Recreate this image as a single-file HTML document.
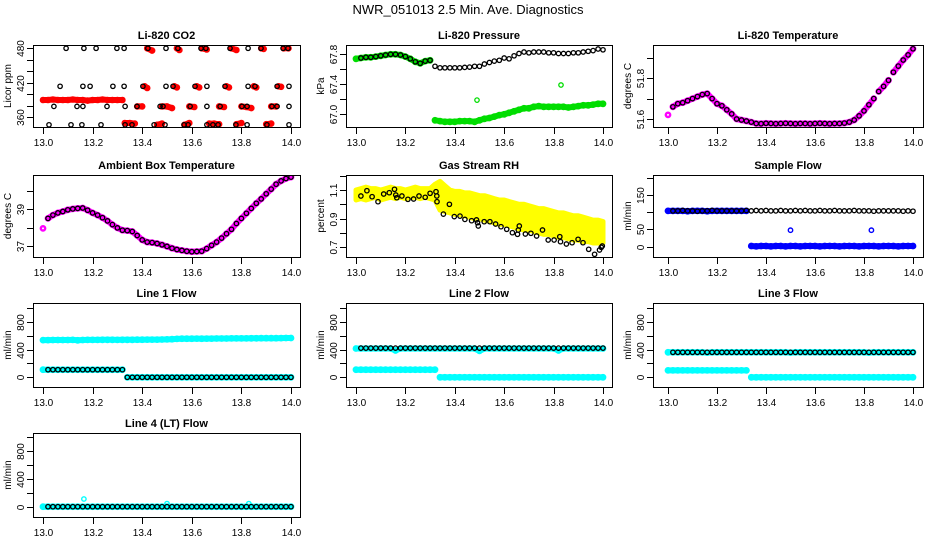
<!DOCTYPE html>
<html><head><meta charset="utf-8"><style>
html,body{margin:0;padding:0;background:#fff;}
svg{display:block;font-family:"Liberation Sans",sans-serif;}
</style></head><body>
<svg id="chart" width="936" height="540" viewBox="0 0 936 540">
<text x="468" y="14" text-anchor="middle" font-size="13">NWR_051013  2.5 Min. Ave. Diagnostics</text>
</svg>
<script>
// ---- shared time axis ----
const T = [13.00,13.02,13.04,13.06,13.08,13.10,13.12,13.14,13.16,13.18,13.20,13.22,13.24,13.26,13.28,13.30,13.32,13.34,13.36,13.38,13.40,13.42,13.44,13.46,13.48,13.50,13.52,13.54,13.56,13.58,13.60,13.62,13.64,13.66,13.68,13.70,13.72,13.74,13.76,13.78,13.80,13.82,13.84,13.86,13.88,13.90,13.92,13.94,13.96,13.98,14.00];
const xTicks = [13.0,13.2,13.4,13.6,13.8,14.0];
const xTickLabels = ["13.0","13.2","13.4","13.6","13.8","14.0"];

// ---- CO2 ----
const co2BlackT = [13.093,13.165,13.214,13.298,13.327,13.423,13.496,13.544,13.637,13.657,13.754,13.827,13.879,13.968,13.988,
 13.069,13.161,13.190,13.282,13.327,13.403,13.496,13.524,13.613,13.661,13.734,13.827,13.855,13.944,13.992,
 13.044,13.137,13.161,13.258,13.331,13.379,13.472,13.484,13.593,13.661,13.714,13.802,13.823,13.923,13.944,13.992,
 13.024,13.113,13.157,13.234,13.331,13.359,13.448,13.492,13.569,13.585,13.661,13.685,13.706,13.778,13.823,13.903,13.992];
const co2BlackV = [480,480,480,480,480,480,480,480,480,480,480,480,480,480,480,
 414,414,414,414,414,414,414,414,414,414,414,414,414,414,414,
 379,379,379,379,379,379,379,379,379,379,379,379,379,379,379,379,
 347,347,347,347,347,347,347,347,347,347,347,347,347,347,347,347,347];
const co2RedT = [13.00,13.02,13.04,13.06,13.08,13.10,13.12,13.14,13.16,13.18,13.20,13.22,13.24,13.26,13.28,13.30,13.32,
 13.42,13.44,13.54,13.55,13.64,13.66,13.76,13.78,13.88,13.89,13.97,13.99,
 13.41,13.42,13.53,13.54,13.62,13.63,13.74,13.75,13.85,13.86,13.95,13.96,
 13.38,13.40,13.48,13.50,13.52,13.59,13.61,13.71,13.73,13.80,13.82,13.84,13.92,13.94,
 13.33,13.35,13.37,13.46,13.48,13.57,13.59,13.67,13.69,13.71,13.78,13.80,13.90,13.92];
const co2RedV = [390,390,391,390,390,390,391,390,390,389,390,390,391,390,390,390,390,
 480,476,480,477,480,478,480,477,480,479,480,480,
 414,411,414,412,414,412,414,412,414,412,414,413,
 379,379,379,379,376,379,378,379,378,379,378,376,379,379,
 350,350,349,347,349,347,350,349,349,348,348,350,348,349];

// ---- Pressure ----
const presBlack = [null,67.75,67.76,67.76,67.77,67.78,67.79,67.80,67.80,67.79,67.77,67.74,67.70,67.68,67.71,67.72,67.64,67.62,67.62,67.62,67.62,67.62,67.625,67.63,67.64,67.64,67.67,67.69,67.71,67.72,67.75,67.74,67.78,67.81,67.83,67.82,67.83,67.83,67.83,67.82,67.82,67.81,67.81,67.81,67.82,67.82,67.83,67.84,67.85,67.87,67.86];
const presGreen = [67.74,67.75,67.76,67.76,67.77,67.78,67.79,67.80,67.80,67.79,67.77,67.74,67.70,67.68,67.71,67.72,66.92,66.91,66.90,66.90,66.90,66.91,66.91,66.91,66.90,66.92,66.94,66.95,66.97,66.99,67.00,67.02,67.04,67.06,67.08,67.08,67.10,67.11,67.10,67.10,67.10,67.10,67.10,67.09,67.10,67.11,67.12,67.12,67.13,67.14,67.14];
const presGreenOutT = [13.49,13.83];
const presGreenOutV = [67.19,67.39];

// ---- Li-820 temperature ----
const tempPink = [51.62,51.66,51.675,51.68,51.69,51.70,51.71,51.72,51.725,51.70,51.675,51.665,51.645,51.625,51.60,51.595,51.59,51.585,51.578,51.577,51.579,51.578,51.577,51.578,51.579,51.578,51.577,51.578,51.578,51.577,51.578,51.579,51.578,51.577,51.578,51.578,51.58,51.585,51.595,51.615,51.64,51.67,51.70,51.735,51.76,51.79,51.83,51.86,51.89,51.915,51.945];
const tempBlack = [null,51.66,51.675,51.68,51.69,51.70,51.71,51.72,51.725,51.70,51.675,51.665,51.645,51.625,51.60,51.595,51.59,51.585,51.578,51.577,51.579,51.578,51.577,51.578,51.579,51.578,51.577,51.578,51.578,51.577,51.578,51.579,51.578,51.577,51.578,51.578,51.58,51.585,51.595,51.615,51.64,51.67,51.70,51.735,51.76,51.79,51.83,51.86,51.89,51.915,51.945];

// ---- Ambient box temperature ----
const ambPink = [37.95,38.5,38.68,38.80,38.88,38.97,39.02,39.05,39.07,38.95,38.80,38.68,38.54,38.36,38.16,37.98,37.85,37.83,37.78,37.56,37.32,37.20,37.17,37.12,37.05,36.96,36.86,36.79,36.74,36.70,36.67,36.68,36.70,36.84,37.02,37.20,37.42,37.66,37.90,38.22,38.50,38.78,39.05,39.33,39.57,39.85,40.11,40.38,40.56,40.69,40.77];
const ambBlack = [null,38.5,38.68,38.80,38.88,38.97,39.02,39.05,39.07,38.95,38.80,38.68,38.54,38.36,38.16,37.98,37.85,37.83,37.78,37.56,37.32,37.20,37.17,37.12,37.05,36.96,36.86,36.79,36.74,36.70,36.67,36.68,36.70,36.84,37.02,37.20,37.42,37.66,37.90,38.22,38.50,38.78,39.05,39.33,39.57,39.85,40.11,40.38,40.56,40.69,40.77];

// ---- Gas stream RH ----
const rhYellowHi = [1.10,1.11,1.12,1.11,1.11,1.10,1.11,1.12,1.11,1.11,1.10,1.11,1.12,1.11,1.11,1.11,1.14,1.16,1.13,1.10,1.09,1.09,1.08,1.08,1.07,1.06,1.06,1.05,1.04,1.03,1.03,1.02,1.01,1.00,1.00,0.99,0.98,0.97,0.97,0.96,0.95,0.94,0.94,0.93,0.92,0.92,0.91,0.90,0.89,0.89,0.88];
const rhYellowLo = [1.03,1.04,1.03,1.04,1.05,1.03,1.04,1.05,1.04,1.05,1.04,1.05,1.05,1.04,1.05,1.04,1.03,0.96,0.95,0.94,0.93,0.93,0.92,0.91,0.90,0.90,0.89,0.88,0.87,0.86,0.86,0.85,0.84,0.83,0.82,0.82,0.81,0.80,0.79,0.79,0.78,0.77,0.77,0.76,0.75,0.75,0.74,0.74,0.73,0.73,0.73];
const rhBlackT = [13.020,13.044,13.065,13.089,13.112,13.135,13.156,13.161,13.165,13.186,13.210,13.233,13.255,13.280,13.300,13.324,13.327,13.328,13.354,13.378,13.398,13.421,13.441,13.468,13.488,13.492,13.495,13.519,13.542,13.565,13.587,13.610,13.633,13.654,13.657,13.661,13.686,13.708,13.731,13.755,13.778,13.802,13.825,13.828,13.852,13.875,13.899,13.919,13.942,13.966,13.986,13.993,13.997];
const rhBlackV = [1.058,1.095,1.053,1.018,1.072,1.081,1.105,1.065,1.046,1.058,1.035,1.037,1.058,1.049,1.077,1.088,1.058,1.018,0.932,1.000,0.914,0.918,0.895,0.886,0.891,0.872,0.849,0.879,0.879,0.863,0.844,0.826,0.802,0.791,0.821,0.849,0.793,0.798,0.779,0.821,0.751,0.751,0.774,0.739,0.723,0.732,0.756,0.732,0.686,0.651,0.681,0.700,0.709];

// ---- Sample flow ----
const sampBlack = [null,104,104,105,104,104,103,104,104,105,104,104,104,104,104,104,105,104,105,104,105,104,104,105,104,104,105,104,105,104,104,105,104,104,105,104,104,104,105,104,104,104,103,104,104,104,104,104,103,104,103];
const sampBlue = [104,104,104,104,103,104,104,104,103,104,104,104,104,104,104,104,104,2,1,2,2,1,2,2,1,2,2,1,2,2,2,1,2,2,2,1,2,2,2,1,2,2,2,1,2,2,2,1,2,2,2];
const sampBlueOutT = [13.50,13.83];
const sampBlueOutV = [48,48];

// ---- Line flows ----
const line1CyanTop = [535,535,536,536,537,537,538,533,537,538,538,538,539,539,539,538,540,540,540,541,541,542,542,543,544,545,548,552,555,556,556,557,556,557,557,558,558,558,559,560,560,560,561,561,562,562,563,563,564,565,566];
const line1CyanLow = [110,110,110,110,110,110,110,110,110,110,110,110,110,110,110,110,110,0,0,0,0,0,0,0,0,0,0,0,0,0,0,0,0,0,0,0,0,0,0,0,0,0,0,0,0,0,0,0,0,0,0];
const line1Black = [null,110,110,110,110,110,110,110,110,110,110,110,110,110,110,110,110,0,0,0,0,0,0,0,0,0,0,0,0,0,0,0,0,0,0,0,0,0,0,0,0,0,0,0,0,0,0,0,0,0,0];
const line2CyanTop = [415,415,415,415,415,415,415,415,385,415,415,415,415,415,415,415,415,415,415,415,415,415,415,415,415,380,415,415,415,415,415,415,415,415,415,415,415,415,415,415,415,385,415,415,415,415,415,415,415,415,415];
const line2CyanLow = [110,110,110,110,110,110,110,110,110,110,110,110,110,110,110,110,110,0,0,0,0,0,0,0,0,0,0,0,0,0,0,0,0,0,0,0,0,0,0,0,0,0,0,0,0,0,0,0,0,0,0];
const line2Black = [null,420,420,420,420,420,420,420,420,420,420,420,420,420,420,420,420,420,420,420,420,420,420,420,420,420,420,420,420,420,420,420,420,420,420,420,420,420,420,420,420,420,420,420,420,420,420,420,420,420,420];
const line3CyanTop = [360,360,360,360,360,360,360,360,355,360,360,360,360,360,360,360,360,360,360,360,360,360,360,360,360,355,360,360,360,360,360,360,360,360,360,360,360,360,360,360,360,355,360,360,360,360,360,360,360,360,360];
const line3CyanLow = [100,100,100,100,100,100,100,100,100,100,100,100,100,100,100,100,100,0,0,0,0,0,0,0,0,0,0,0,0,0,0,0,0,0,0,0,0,0,0,0,0,0,0,0,0,0,0,0,0,0,0];
const line3Black = [null,360,360,360,360,360,360,360,360,360,360,360,360,360,360,360,360,360,360,360,360,360,360,360,360,360,360,360,360,360,360,360,360,360,360,360,360,360,360,360,360,360,360,360,360,360,360,360,360,360,360];
const line4Cyan = [0,0,0,0,0,0,0,0,0,0,0,0,0,0,0,0,0,0,0,0,0,0,0,0,0,0,0,0,0,0,0,0,0,0,0,0,0,0,0,0,0,0,0,0,0,0,0,0,0,0,0];
const line4CyanOutT = [13.165,13.50,13.83];
const line4CyanOutV = [110,45,45];
const line4Black = [null,0,0,0,0,0,0,0,0,0,0,0,0,0,0,0,0,0,0,0,0,0,0,0,0,0,0,0,0,0,0,0,0,0,0,0,0,0,0,0,0,0,0,0,0,0,0,0,0,0,0];

const NS = "http://www.w3.org/2000/svg";
const svg = document.getElementById("chart");
function mk(tag, attrs, parent){
  const e = document.createElementNS(NS, tag);
  for (const k in attrs) e.setAttribute(k, attrs[k]);
  parent.appendChild(e);
  return e;
}

const flowTicks = [0,200,400,600,800,1000];
const flowLabels = ["0","","400","","800",""];
const panels = [
 {id:"co2", title:"Li-820 CO2", box:[33,45,300,127], xm:[43,291], ym:[360,117.3,480,48.3], yt:[360,380,400,420,440,460,480], yl:["360","","","420","","","480"], ylab:"Licor ppm",
  series:[{xs:co2RedT, ys:co2RedV, c:"#ff0000", w:2.2, d:true, n:"co2-red-series"},{xs:co2BlackT, ys:co2BlackV, c:"#000", w:1.3, n:"co2-black-series"}]},
 {id:"pressure", title:"Li-820 Pressure", box:[346,45,612,127], xm:[356,603], ym:[67.0,114.3,67.8,54.3], yt:[67.0,67.2,67.4,67.6,67.8], yl:["67.0","","67.4","","67.8"], ylab:"kPa",
  series:[{xs:T, ys:presGreen, c:"#00dd00", w:2.4, d:true, n:"pressure-green-series"},{xs:presGreenOutT, ys:presGreenOutV, c:"#00dd00", w:1.3, n:"pressure-green-outliers"},{xs:T, ys:presBlack, c:"#000", w:1.3, n:"pressure-black-series"}]},
 {id:"temp", title:"Li-820 Temperature", box:[653,45,923,127], xm:[668,913], ym:[51.6,119,51.8,78.3], yt:[51.6,51.7,51.8,51.9], yl:["51.6","","51.8",""], ylab:"degrees C",
  series:[{xs:T, ys:tempPink, c:"#ff00ff", w:2.4, d:true, n:"temp-magenta-series"},{xs:T, ys:tempBlack, c:"#000", w:1.3, n:"temp-black-series"}]},
 {id:"ambient", title:"Ambient Box Temperature", box:[33,175,300,257], xm:[43,291], ym:[37,245.7,39,209.3], yt:[37,38,39,40], yl:["37","","39",""], ylab:"degrees C",
  series:[{xs:T, ys:ambPink, c:"#ff00ff", w:2.4, d:true, n:"ambient-magenta-series"},{xs:T, ys:ambBlack, c:"#000", w:1.3, n:"ambient-black-series"}]},
 {id:"rh", title:"Gas Stream RH", box:[346,175,612,257], xm:[356,603], ym:[0.7,247.3,1.1,190], yt:[0.7,0.8,0.9,1.0,1.1,1.2], yl:["0.7","","0.9","","1.1",""], ylab:"percent",
  band:{hi:rhYellowHi, lo:rhYellowLo},
  series:[{xs:rhBlackT, ys:rhBlackV, c:"#000", w:1.3, n:"rh-black-series"}]},
 {id:"sample", title:"Sample Flow", box:[653,175,923,257], xm:[668,913], ym:[0,246.7,150,195], yt:[0,50,100,150,200], yl:["0","50","","150",""], ylab:"ml/min",
  series:[{xs:T, ys:sampBlue, c:"#0000ff", w:2.4, d:true, n:"sample-blue-series"},{xs:sampBlueOutT, ys:sampBlueOutV, c:"#0000ff", w:1.4, n:"sample-blue-outliers"},{xs:T, ys:sampBlack, c:"#000", w:1.3, n:"sample-black-series"}]},
 {id:"line1", title:"Line 1 Flow", box:[33,303,300,387], xm:[43,291], ym:[0,377.3,800,321.7], yt:flowTicks, yl:flowLabels, ylab:"ml/min",
  series:[{xs:T, ys:line1CyanTop, c:"#00ffff", w:2.4, d:true, n:"line1-cyan-top"},{xs:T, ys:line1CyanLow, c:"#00ffff", w:2.4, d:true, n:"line1-cyan-low"},{xs:T, ys:line1Black, c:"#000", w:1.3, n:"line1-black-series"}]},
 {id:"line2", title:"Line 2 Flow", box:[346,303,612,387], xm:[356,603], ym:[0,377.3,800,321.7], yt:flowTicks, yl:flowLabels, ylab:"ml/min",
  series:[{xs:T, ys:line2CyanTop, c:"#00ffff", w:2.4, d:true, n:"line2-cyan-top"},{xs:T, ys:line2CyanLow, c:"#00ffff", w:2.4, d:true, n:"line2-cyan-low"},{xs:T, ys:line2Black, c:"#000", w:1.3, n:"line2-black-series"}]},
 {id:"line3", title:"Line 3 Flow", box:[653,303,923,387], xm:[668,913], ym:[0,377.3,800,321.7], yt:flowTicks, yl:flowLabels, ylab:"ml/min",
  series:[{xs:T, ys:line3CyanTop, c:"#00ffff", w:2.4, d:true, n:"line3-cyan-top"},{xs:T, ys:line3CyanLow, c:"#00ffff", w:2.4, d:true, n:"line3-cyan-low"},{xs:T, ys:line3Black, c:"#000", w:1.3, n:"line3-black-series"}]},
 {id:"line4", title:"Line 4 (LT) Flow", box:[33,433,300,517], xm:[43,291], ym:[0,506.7,800,450.7], yt:flowTicks, yl:flowLabels, ylab:"ml/min",
  series:[{xs:T, ys:line4Cyan, c:"#00ffff", w:2.4, d:true, n:"line4-cyan-series"},{xs:line4CyanOutT, ys:line4CyanOutV, c:"#00ffff", w:1.4, n:"line4-cyan-outliers"},{xs:T, ys:line4Black, c:"#000", w:1.3, n:"line4-black-series"}]}
];

panels.forEach(p => {
  const [l,t,r,b] = p.box;
  const X = v => p.xm[0] + (v - 13) * (p.xm[1] - p.xm[0]);
  const Y = v => p.ym[1] + (v - p.ym[0]) * (p.ym[3] - p.ym[1]) / (p.ym[2] - p.ym[0]);
  const g = mk("g", {}, svg);
  
  

  const title = mk("text", {x:(l+r)/2, y:t-6, "text-anchor":"middle", "font-size":"11", "font-weight":"bold"}, g);
  title.textContent = p.title;
  
  

  const cp = mk("clipPath", {id:"clip-"+p.id}, g);
  mk("rect", {x:l, y:t, width:r-l, height:b-t}, cp);
  const marks = mk("g", {"clip-path":"url(#clip-"+p.id+")"}, g);
  
  

  if (p.band) {
    let pts = [];
    T.forEach((tv,i) => pts.push(X(tv).toFixed(1)+","+Y(p.band.hi[i]).toFixed(1)));
    for (let i = T.length-1; i >= 0; i--) pts.push(X(T[i]).toFixed(1)+","+Y(p.band.lo[i]).toFixed(1));
    const poly = mk("polygon", {points:pts.join(" "), fill:"#ffff00", stroke:"#ffff00", "stroke-width":"5", "stroke-linejoin":"round"}, marks);
    
    
  }

  p.series.forEach(s => {
    const sg = mk("g", {fill:"none", stroke:s.c, "stroke-width":s.w}, marks);
    
    
    let prev = null;
    s.xs.forEach((xv,i) => {
      const yv = s.ys[i];
      if (yv === null || yv === undefined) { prev = null; return; }
      const px = X(xv), py = Y(yv);
      if (s.d && prev && Math.abs(px - prev[0]) < 9 && Math.abs(py - prev[1]) < 6.5) {
        const seg = mk("line", {x1:prev[0].toFixed(1), y1:prev[1].toFixed(1), x2:px.toFixed(1), y2:py.toFixed(1), "stroke-width":"6", "stroke-linecap":"round"}, sg);
        
        
      }
      const c = mk("circle", {cx:px.toFixed(1), cy:py.toFixed(1), r:2.2}, sg);
      
      
      prev = [px, py];
    });
  });

  const frame = mk("rect", {x:l+0.5, y:t+0.5, width:r-l, height:b-t, fill:"none", stroke:"#000", "stroke-width":"1"}, g);
  
  

  const xa = mk("g", {}, g);
  
  
  xTicks.forEach((tv,i) => {
    const x = Math.round(X(tv)) + 0.5;
    mk("line", {x1:x, y1:b+1, x2:x, y2:b+7, stroke:"#000", "stroke-width":"1"}, xa);
    const tx = mk("text", {x:x, y:b+19, "text-anchor":"middle", "font-size":"10"}, xa);
    tx.textContent = xTickLabels[i];
    
    
  });

  const ya = mk("g", {}, g);
  
  
  p.yt.forEach((v,i) => {
    const y = Math.round(Y(v)) + 0.5;
    if (y < t - 2 || y > b + 2) return;
    mk("line", {x1:l-6, y1:y, x2:l, y2:y, stroke:"#000", "stroke-width":"1"}, ya);
    if (p.yl[i]) {
      const tx = mk("text", {x:0, y:0, "text-anchor":"middle", "font-size":"10", transform:"translate("+(l-9)+","+y+") rotate(-90)"}, ya);
      tx.textContent = p.yl[i];
      
      
    }
  });
  const yl = mk("text", {x:0, y:0, "text-anchor":"middle", "font-size":"10", transform:"translate("+(l-22)+","+((t+b)/2)+") rotate(-90)"}, g);
  yl.textContent = p.ylab;
  
  
});
</script>
</body></html>
